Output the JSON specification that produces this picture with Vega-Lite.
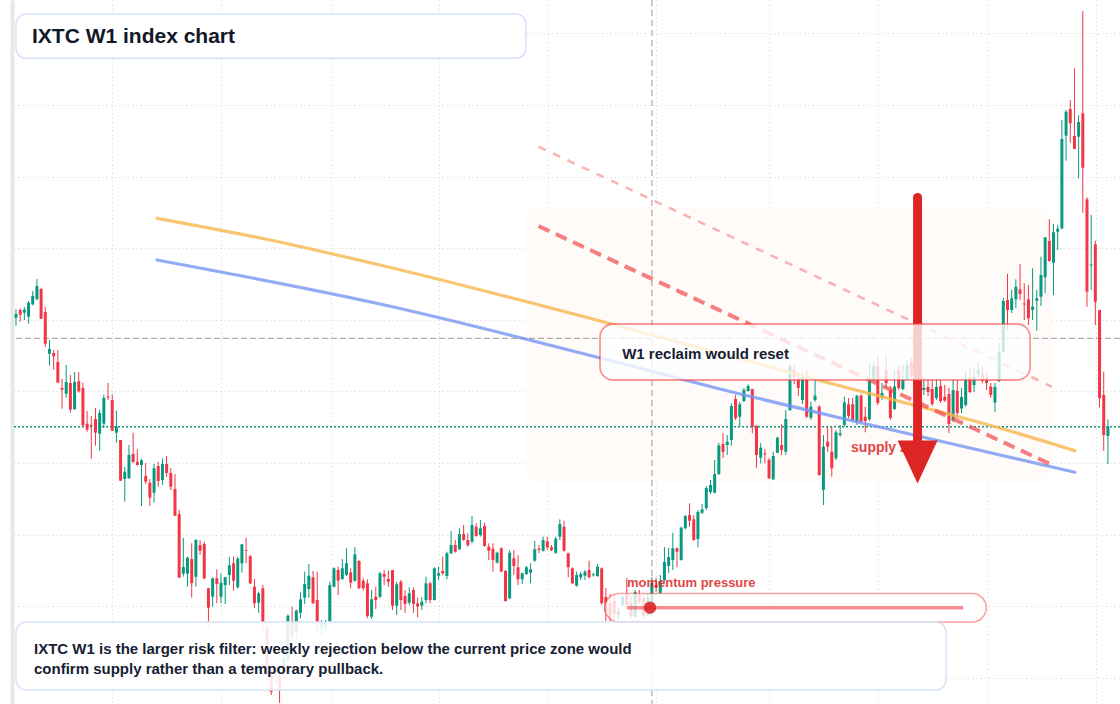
{
  "$schema": "https://vega.github.io/schema/vega-lite/v6.json",
  "width": 1106,
  "height": 704,
  "padding": {"left": 14, "top": 0, "right": 0, "bottom": 0},
  "autosize": {"type": "none"},
  "background": "#ffffff",
  "config": {
    "view": {"stroke": null},
    "font": "Liberation Sans",
    "axis": {"labels": false, "ticks": false, "domain": false, "grid": true, "gridColor": "#cfd2d7", "gridDash": [1, 3.2], "gridWidth": 1}
  },
  "datasets": {
    "weekly": [
      {"w":0,"o":1386.3,"h":1395,"l":1378.3,"c":1390},{"w":1,"o":1394,"h":1396,"l":1382.3,"c":1389.3},{"w":2,"o":1391.3,"h":1397,"l":1384,"c":1394.3},{"w":3,"o":1387.3,"h":1403,"l":1380.3,"c":1401.3},{"w":4,"o":1399.7,"h":1413,"l":1398.7,"c":1408},
      {"w":5,"o":1405,"h":1425,"l":1403.3,"c":1418},{"w":6,"o":1415,"h":1416.3,"l":1385,"c":1385.3},{"w":7,"o":1392,"h":1397,"l":1357,"c":1360.3},{"w":8,"o":1350.3,"h":1364,"l":1338.3,"c":1355},{"w":9,"o":1351,"h":1354,"l":1334.3,"c":1347.7},
      {"w":10,"o":1342,"h":1354,"l":1321.3,"c":1321.3},{"w":11,"o":1316,"h":1325,"l":1295.3,"c":1314.3},{"w":12,"o":1310.3,"h":1339,"l":1306.3,"c":1322},{"w":13,"o":1321,"h":1329,"l":1291.3,"c":1294.3},{"w":14,"o":1295,"h":1332,"l":1294,"c":1322},
      {"w":15,"o":1322.7,"h":1332,"l":1311.3,"c":1312.7},{"w":16,"o":1316,"h":1321.3,"l":1277.3,"c":1278.7},{"w":17,"o":1280.3,"h":1293,"l":1272.3,"c":1274.3},{"w":18,"o":1279,"h":1288,"l":1245.3,"c":1278},{"w":19,"o":1285,"h":1296,"l":1258.3,"c":1271.3},
      {"w":20,"o":1270.3,"h":1294.3,"l":1253.3,"c":1291},{"w":21,"o":1280.3,"h":1309.3,"l":1276.3,"c":1306},{"w":22,"o":1307.3,"h":1321,"l":1304,"c":1306.3},{"w":23,"o":1304,"h":1309.7,"l":1273,"c":1273.3},{"w":24,"o":1271.3,"h":1293.3,"l":1261.3,"c":1277.3},
      {"w":25,"o":1264,"h":1264,"l":1223,"c":1223.3},{"w":26,"o":1225,"h":1237,"l":1202.3,"c":1232.3},{"w":27,"o":1226,"h":1259,"l":1225,"c":1249},{"w":28,"o":1250,"h":1271.3,"l":1241.3,"c":1242},{"w":29,"o":1242.3,"h":1254.7,"l":1238.5,"c":1239},
      {"w":30,"o":1239,"h":1245.3,"l":1198,"c":1243.7},{"w":31,"o":1228,"h":1241,"l":1220,"c":1222.3},{"w":32,"o":1221.3,"h":1225,"l":1198,"c":1206.3},{"w":33,"o":1211.3,"h":1240,"l":1201.3,"c":1235.7},{"w":34,"o":1238,"h":1242,"l":1217.3,"c":1223},
      {"w":35,"o":1224,"h":1245.7,"l":1219,"c":1240},{"w":36,"o":1240,"h":1248,"l":1227.3,"c":1231},{"w":37,"o":1231,"h":1236,"l":1214,"c":1217.3},{"w":38,"o":1215,"h":1230,"l":1188,"c":1188.3},{"w":39,"o":1190,"h":1194,"l":1126.3,"c":1126.3},
      {"w":40,"o":1130.3,"h":1166.3,"l":1127.3,"c":1137},{"w":41,"o":1130.3,"h":1147.3,"l":1117.3,"c":1146.3},{"w":42,"o":1145,"h":1160.7,"l":1106.3,"c":1120.7},{"w":43,"o":1127.3,"h":1165,"l":1117.3,"c":1164},{"w":44,"o":1159,"h":1164,"l":1149,"c":1153.3},
      {"w":45,"o":1160,"h":1162.3,"l":1124.7,"c":1125.7},{"w":46,"o":1115.7,"h":1116.3,"l":1077.3,"c":1096.3},{"w":47,"o":1107.3,"h":1126.7,"l":1097.3,"c":1125.7},{"w":48,"o":1125.7,"h":1134.7,"l":1100.7,"c":1120},{"w":49,"o":1107.3,"h":1130.7,"l":1100.7,"c":1121.3},
      {"w":50,"o":1119,"h":1127.3,"l":1100,"c":1126.7},{"w":51,"o":1129,"h":1147.3,"l":1119,"c":1138.7},{"w":52,"o":1140.7,"h":1147.3,"l":1113.3,"c":1123.3},{"w":53,"o":1116.7,"h":1147.3,"l":1115.7,"c":1145.3},{"w":54,"o":1140.7,"h":1160,"l":1131.3,"c":1159.7},
      {"w":55,"o":1154,"h":1166,"l":1140.7,"c":1153.3},{"w":56,"o":1147.7,"h":1149,"l":1120,"c":1120.7},{"w":57,"o":1117.3,"h":1125,"l":1095.7,"c":1100.7},{"w":58,"o":1101.3,"h":1112.3,"l":1091.3,"c":1110.7},{"w":59,"o":1115.7,"h":1119,"l":1072.3,"c":1082},
      {"w":60,"o":1076,"h":1079,"l":1022,"c":1029},{"w":61,"o":1027.3,"h":1034,"l":1009,"c":1012.3},{"w":62,"o":1024.5,"h":1031,"l":1021,"c":1023.5},{"w":63,"o":1028,"h":1039,"l":1001,"c":1014},{"w":64,"o":1031,"h":1049,"l":1026,"c":1046},
      {"w":65,"o":1044,"h":1089.7,"l":1042,"c":1088.3},{"w":66,"o":1082.3,"h":1097.3,"l":1064,"c":1067.3},{"w":67,"o":1072.3,"h":1094.7,"l":1064,"c":1093.3},{"w":68,"o":1091.3,"h":1112.3,"l":1085.7,"c":1104.7},{"w":69,"o":1106.3,"h":1132.3,"l":1100,"c":1120},
      {"w":70,"o":1115,"h":1140,"l":1106.3,"c":1128.3},{"w":71,"o":1126.7,"h":1133,"l":1100,"c":1100.7},{"w":72,"o":1104,"h":1132.3,"l":1070.7,"c":1080.7},{"w":73,"o":1076,"h":1084,"l":1069,"c":1082},{"w":74,"o":1077,"h":1084,"l":1072,"c":1081},
      {"w":75,"o":1082.3,"h":1122.3,"l":1078,"c":1118.7},{"w":76,"o":1117.3,"h":1136.7,"l":1116.7,"c":1135.7},{"w":77,"o":1134,"h":1137.3,"l":1109,"c":1123.3},{"w":78,"o":1125,"h":1145,"l":1124,"c":1135.7},{"w":79,"o":1129,"h":1155.7,"l":1128,"c":1140.7},
      {"w":80,"o":1131.7,"h":1135.7,"l":1115.7,"c":1121.3},{"w":81,"o":1123.3,"h":1156.7,"l":1122.3,"c":1149.7},{"w":82,"o":1143,"h":1144,"l":1115,"c":1115.7},{"w":83,"o":1123.3,"h":1125.7,"l":1113.3,"c":1115.7},{"w":84,"o":1120.7,"h":1124.7,"l":1085.7,"c":1088},
      {"w":85,"o":1087.3,"h":1114,"l":1085,"c":1104.7},{"w":86,"o":1107.3,"h":1117.3,"l":1095,"c":1104},{"w":87,"o":1107.3,"h":1132.3,"l":1105.7,"c":1130.7},{"w":88,"o":1130,"h":1134,"l":1119,"c":1127.3},{"w":89,"o":1125,"h":1133.3,"l":1117.3,"c":1122.3},
      {"w":90,"o":1134,"h":1134,"l":1094,"c":1098.3},{"w":91,"o":1098.3,"h":1122.3,"l":1089,"c":1119.7},{"w":92,"o":1122.3,"h":1124,"l":1094,"c":1104},{"w":93,"o":1108,"h":1114,"l":1091,"c":1100},{"w":94,"o":1101.3,"h":1116.7,"l":1099,"c":1110.7},
      {"w":95,"o":1114,"h":1116.7,"l":1091.3,"c":1100},{"w":96,"o":1100.7,"h":1106.3,"l":1086.7,"c":1097.3},{"w":97,"o":1098.3,"h":1107,"l":1094,"c":1102.3},{"w":98,"o":1104,"h":1127.3,"l":1100.7,"c":1120.7},{"w":99,"o":1120.7,"h":1122.3,"l":1100.7,"c":1104},
      {"w":100,"o":1104,"h":1136.7,"l":1103.5,"c":1135.7},{"w":101,"o":1128.3,"h":1137.3,"l":1124,"c":1130.7},{"w":102,"o":1133,"h":1147.3,"l":1129,"c":1130.7},{"w":103,"o":1128,"h":1152.3,"l":1124.7,"c":1150.7},{"w":104,"o":1150.7,"h":1173.3,"l":1150,"c":1159},
      {"w":105,"o":1159,"h":1164,"l":1151.3,"c":1152.3},{"w":106,"o":1154.7,"h":1175.7,"l":1154,"c":1170},{"w":107,"o":1170,"h":1179,"l":1163.3,"c":1164},{"w":108,"o":1164,"h":1170.7,"l":1157.3,"c":1158.7},{"w":109,"o":1162.3,"h":1188,"l":1160.7,"c":1179},
      {"w":110,"o":1177.3,"h":1180.7,"l":1167.3,"c":1168},{"w":111,"o":1169,"h":1184,"l":1167.3,"c":1175.7},{"w":112,"o":1178,"h":1181.3,"l":1157.3,"c":1158},{"w":113,"o":1157.3,"h":1160.7,"l":1144,"c":1153.3},{"w":114,"o":1155.3,"h":1160.7,"l":1132.3,"c":1144},
      {"w":115,"o":1141.3,"h":1152.3,"l":1140.7,"c":1151.3},{"w":116,"o":1155.7,"h":1156.7,"l":1132.3,"c":1132.3},{"w":117,"o":1133,"h":1134,"l":1102.3,"c":1103},{"w":118,"o":1105.7,"h":1154,"l":1104.7,"c":1151.3},{"w":119,"o":1145.7,"h":1154,"l":1129,"c":1138},
      {"w":120,"o":1136.7,"h":1149,"l":1119,"c":1124.7},{"w":121,"o":1124.7,"h":1131.3,"l":1120,"c":1130.7},{"w":122,"o":1130,"h":1138,"l":1129,"c":1136.7},{"w":123,"o":1131.3,"h":1140.7,"l":1120.7,"c":1134.7},{"w":124,"o":1143.3,"h":1163.3,"l":1142.3,"c":1154.7},
      {"w":125,"o":1155.3,"h":1159,"l":1150.7,"c":1154},{"w":126,"o":1153.3,"h":1167.3,"l":1152.3,"c":1164},{"w":127,"o":1162.7,"h":1167.3,"l":1154,"c":1156.7},{"w":128,"o":1156.7,"h":1159,"l":1153,"c":1154},{"w":129,"o":1151.3,"h":1167.3,"l":1150,"c":1165.3},
      {"w":130,"o":1167.3,"h":1184.7,"l":1164,"c":1180},{"w":131,"o":1177.3,"h":1183.3,"l":1152.3,"c":1153.3},{"w":132,"o":1150.7,"h":1151.3,"l":1126.7,"c":1136.7},{"w":133,"o":1135.7,"h":1136.7,"l":1120,"c":1120.7},{"w":134,"o":1118.3,"h":1132.3,"l":1117.3,"c":1129},
      {"w":135,"o":1126.7,"h":1132.3,"l":1124,"c":1130},{"w":136,"o":1128.3,"h":1134,"l":1124,"c":1132.3},{"w":137,"o":1134,"h":1143.3,"l":1125.7,"c":1126.7},{"w":138,"o":1128.7,"h":1131.3,"l":1127.3,"c":1129.7},{"w":139,"o":1128,"h":1140,"l":1127.3,"c":1137.3},
      {"w":140,"o":1135.7,"h":1136.7,"l":1099,"c":1101},{"w":141,"o":1107,"h":1116,"l":1083,"c":1092},{"w":142,"o":1101,"h":1110,"l":1083,"c":1086},{"w":143,"o":1103,"h":1110,"l":1084,"c":1090},{"w":144,"o":1089,"h":1096,"l":1084,"c":1092.5},
      {"w":145,"o":1099,"h":1109,"l":1097,"c":1107},{"w":146,"o":1109,"h":1126,"l":1097,"c":1099},{"w":147,"o":1101,"h":1108,"l":1086,"c":1088},{"w":148,"o":1087.3,"h":1114,"l":1086,"c":1112},{"w":149,"o":1109,"h":1114,"l":1100,"c":1102},
      {"w":150,"o":1106,"h":1109,"l":1086,"c":1088},{"w":151,"o":1089,"h":1111,"l":1088,"c":1107},{"w":152,"o":1101,"h":1127,"l":1099,"c":1121},{"w":153,"o":1119,"h":1126,"l":1112,"c":1116},{"w":154,"o":1111,"h":1129,"l":1109,"c":1123},
      {"w":155,"o":1124,"h":1157,"l":1122,"c":1142},{"w":156,"o":1138,"h":1156,"l":1131,"c":1147},{"w":157,"o":1144,"h":1171.3,"l":1134,"c":1155.7},{"w":158,"o":1155.7,"h":1156.7,"l":1136.7,"c":1152.3},{"w":159,"o":1144,"h":1177.3,"l":1143.3,"c":1176.3},
      {"w":160,"o":1175.7,"h":1189,"l":1174.7,"c":1188},{"w":161,"o":1189,"h":1200.7,"l":1177.3,"c":1183.3},{"w":162,"o":1184.7,"h":1189,"l":1163.3,"c":1164},{"w":163,"o":1165,"h":1194,"l":1156.7,"c":1192},{"w":164,"o":1191.3,"h":1200,"l":1190,"c":1194.7},
      {"w":165,"o":1196,"h":1218,"l":1194,"c":1216},{"w":166,"o":1212,"h":1224,"l":1210,"c":1219},{"w":167,"o":1211.3,"h":1244,"l":1210.7,"c":1230},{"w":168,"o":1230,"h":1261,"l":1229,"c":1258.5},{"w":169,"o":1260,"h":1271,"l":1246,"c":1252},
      {"w":170,"o":1259,"h":1269,"l":1249,"c":1262.3},{"w":171,"o":1264,"h":1300.7,"l":1258.3,"c":1298},{"w":172,"o":1305,"h":1309,"l":1284,"c":1285.7},{"w":173,"o":1287.3,"h":1302.3,"l":1277.3,"c":1299.7},{"w":174,"o":1303,"h":1316,"l":1302,"c":1314},
      {"w":175,"o":1313,"h":1319.7,"l":1312.3,"c":1318},{"w":176,"o":1315,"h":1315,"l":1270.7,"c":1277.3},{"w":177,"o":1278.3,"h":1278.3,"l":1236.3,"c":1249},{"w":178,"o":1246.3,"h":1260.7,"l":1240.7,"c":1256.3},{"w":179,"o":1250.5,"h":1255,"l":1240.7,"c":1249.5},
      {"w":180,"o":1244,"h":1246,"l":1225,"c":1225.7},{"w":181,"o":1224.7,"h":1252.3,"l":1224,"c":1248},{"w":182,"o":1251.3,"h":1267.3,"l":1250.7,"c":1266.3},{"w":183,"o":1259,"h":1279.7,"l":1249,"c":1254},{"w":184,"o":1252.3,"h":1294,"l":1249,"c":1285},
      {"w":185,"o":1294,"h":1340,"l":1293,"c":1337.3},{"w":186,"o":1334,"h":1339,"l":1320,"c":1327},{"w":187,"o":1326,"h":1332,"l":1308,"c":1316},{"w":188,"o":1304,"h":1332,"l":1300,"c":1327},{"w":189,"o":1325.7,"h":1334,"l":1286,"c":1287.3},
      {"w":190,"o":1286.3,"h":1302,"l":1284,"c":1297.3},{"w":191,"o":1304,"h":1326,"l":1302,"c":1308.3},{"w":192,"o":1297.3,"h":1299,"l":1228,"c":1229},{"w":193,"o":1214,"h":1269,"l":1199,"c":1257.3},{"w":194,"o":1262.3,"h":1277.3,"l":1252,"c":1257.3},
      {"w":195,"o":1252.3,"h":1277.3,"l":1227.3,"c":1235.7},{"w":196,"o":1245.7,"h":1274,"l":1244,"c":1271.7},{"w":197,"o":1269,"h":1279,"l":1267.3,"c":1270.7},{"w":198,"o":1279,"h":1307.3,"l":1277.3,"c":1301.7},{"w":199,"o":1299.7,"h":1306,"l":1286,"c":1288.3},
      {"w":200,"o":1299.7,"h":1306,"l":1282,"c":1284},{"w":201,"o":1282.3,"h":1309,"l":1279,"c":1308.3},{"w":202,"o":1308.3,"h":1309.7,"l":1281.7,"c":1282.3},{"w":203,"o":1287.3,"h":1297.3,"l":1271.7,"c":1283},{"w":204,"o":1284.7,"h":1341,"l":1283,"c":1324},
      {"w":205,"o":1324,"h":1342.3,"l":1323,"c":1337.3},{"w":206,"o":1338,"h":1348,"l":1299,"c":1301},{"w":207,"o":1307,"h":1321,"l":1304,"c":1311},{"w":208,"o":1334,"h":1349,"l":1316,"c":1321},{"w":209,"o":1314,"h":1318,"l":1284,"c":1286},
      {"w":210,"o":1295,"h":1334,"l":1294,"c":1317.5},{"w":211,"o":1334,"h":1339,"l":1314,"c":1316},{"w":212,"o":1315,"h":1339,"l":1314,"c":1324},{"w":213,"o":1325,"h":1344,"l":1324,"c":1339},{"w":214,"o":1342,"h":1346,"l":1326,"c":1329},
      {"w":215,"o":1314,"h":1338,"l":1310,"c":1332},{"w":216,"o":1326,"h":1332,"l":1308,"c":1312},{"w":217,"o":1314,"h":1326,"l":1309,"c":1316},{"w":218,"o":1317,"h":1326,"l":1308,"c":1312},{"w":219,"o":1315,"h":1324,"l":1298,"c":1300},
      {"w":220,"o":1306,"h":1326,"l":1304,"c":1317},{"w":221,"o":1318,"h":1324,"l":1301,"c":1303},{"w":222,"o":1307.3,"h":1319,"l":1302,"c":1303.5},{"w":223,"o":1310,"h":1316,"l":1271,"c":1280},{"w":224,"o":1284,"h":1324,"l":1282,"c":1314},
      {"w":225,"o":1313,"h":1324,"l":1286,"c":1291},{"w":226,"o":1295.5,"h":1316,"l":1291,"c":1307},{"w":227,"o":1299,"h":1334,"l":1297,"c":1325},{"w":228,"o":1326,"h":1336,"l":1311,"c":1312},{"w":229,"o":1319,"h":1336,"l":1312,"c":1327},
      {"w":230,"o":1330,"h":1342,"l":1327,"c":1334},{"w":231,"o":1330,"h":1338,"l":1321,"c":1323},{"w":232,"o":1326,"h":1331,"l":1314,"c":1321},{"w":233,"o":1317.5,"h":1321,"l":1306,"c":1309},{"w":234,"o":1301.5,"h":1321,"l":1292.3,"c":1317},
      {"w":235,"o":1323,"h":1361,"l":1322,"c":1352},{"w":236,"o":1352,"h":1406,"l":1351,"c":1403},{"w":237,"o":1404,"h":1430,"l":1374,"c":1394},{"w":238,"o":1394,"h":1414,"l":1391,"c":1405.7},{"w":239,"o":1404.7,"h":1424.7,"l":1395.7,"c":1417.3},
      {"w":240,"o":1414.7,"h":1440,"l":1404,"c":1410},{"w":241,"o":1400.5,"h":1420.7,"l":1384,"c":1399.5},{"w":242,"o":1404.7,"h":1419,"l":1379,"c":1385.7},{"w":243,"o":1394,"h":1435.7,"l":1384,"c":1397.3},{"w":244,"o":1403.3,"h":1414,"l":1373.3,"c":1405.7},
      {"w":245,"o":1407.3,"h":1447.3,"l":1398,"c":1429},{"w":246,"o":1426.7,"h":1466.7,"l":1410.7,"c":1466.7},{"w":247,"o":1463,"h":1484.7,"l":1442.3,"c":1443},{"w":248,"o":1441.3,"h":1480,"l":1409,"c":1471.7},{"w":249,"o":1472.3,"h":1479,"l":1454,"c":1475.3},
      {"w":250,"o":1475.7,"h":1584,"l":1474.7,"c":1565},{"w":251,"o":1568.3,"h":1594,"l":1543.3,"c":1592.3},{"w":252,"o":1595,"h":1604,"l":1561.3,"c":1580.7},{"w":253,"o":1568,"h":1635.7,"l":1555,"c":1555},{"w":254,"o":1567.3,"h":1588.7,"l":1525.7,"c":1582},
      {"w":255,"o":1590.7,"h":1693,"l":1491.3,"c":1536.3},{"w":256,"o":1504.7,"h":1506.7,"l":1397.3,"c":1412.3},{"w":257,"o":1438.5,"h":1489,"l":1414,"c":1439.5},{"w":258,"o":1459.7,"h":1463.3,"l":1379,"c":1402.3},{"w":259,"o":1394,"h":1394,"l":1296.7,"c":1305.7},
      {"w":260,"o":1309,"h":1332.3,"l":1253.3,"c":1269},{"w":261,"o":1268,"h":1284.7,"l":1240,"c":1277.3}
    ],
    "guides": [
      {"guide":"upper","w":33.7,"p":1485.7},{"guide":"upper","w":60.7,"p":1464},{"guide":"upper","w":87,"p":1439},{"guide":"upper","w":149.2,"p":1372.3},{"guide":"upper","w":194.6,"p":1320.7},{"guide":"upper","w":237.6,"p":1273},{"guide":"upper","w":253.1,"p":1253.3},
      {"guide":"lower","w":33.7,"p":1444},{"guide":"lower","w":87,"p":1400},{"guide":"lower","w":149.2,"p":1335.7},{"guide":"lower","w":167.1,"p":1316.3},{"guide":"lower","w":195.8,"p":1287.3},{"guide":"lower","w":253.1,"p":1231.7}
    ]
  },
  "layer": [
    {
      "description": "supply zone shading",
      "data": {"values": [{"zone": "supply", "w0": 121.9, "w1": 247.6, "p0": 1222, "p1": 1497}]},
      "mark": {"type": "rect", "cornerRadius": 14, "fill": "#fefbf9"},
      "encoding": {
        "x": {"field": "w0", "type": "quantitative", "title": null, "scale": {"domain": [-0.478, 263.89], "nice": false, "zero": false, "padding": 0}},
        "x2": {"field": "w1"},
        "y": {"field": "p0", "type": "quantitative", "title": null, "scale": {"domain": [1000, 1704], "nice": false, "zero": false, "padding": 0}},
        "y2": {"field": "p1"}
      }
    },
    {
      "description": "crosshair, vertical",
      "data": {"values": [{"w": 152}]},
      "mark": {"type": "rule", "color": "#9a9a9a", "strokeWidth": 1, "strokeDash": [6, 4]},
      "encoding": {"x": {"field": "w", "type": "quantitative", "title": null, "scale": {"domain": [-0.478, 263.89], "nice": false, "zero": false, "padding": 0}}}
    },
    {
      "description": "crosshair, horizontal",
      "data": {"values": [{"p": 1365.7}]},
      "mark": {"type": "rule", "color": "#9a9a9a", "strokeWidth": 1, "strokeDash": [6, 3]},
      "encoding": {"y": {"field": "p", "type": "quantitative", "title": null, "scale": {"domain": [1000, 1704], "nice": false, "zero": false, "padding": 0}}}
    },
    {
      "description": "last close price line",
      "data": {"name": "weekly"},
      "transform": [
        {"joinaggregate": [{"op": "max", "field": "w", "as": "last"}]},
        {"filter": "datum.w == datum.last"}
      ],
      "mark": {"type": "rule", "color": "#089981", "strokeWidth": 1.5, "strokeDash": [2, 2]},
      "encoding": {"y": {"field": "c", "type": "quantitative", "title": null, "scale": {"domain": [1000, 1704], "nice": false, "zero": false, "padding": 0}}}
    },
    {
      "description": "candle wicks; carries the grid",
      "data": {"name": "weekly"},
      "mark": {"type": "rule", "strokeWidth": 1},
      "encoding": {
        "x": {"field": "w", "type": "quantitative", "title": null, "scale": {"domain": [-0.478, 263.89], "nice": false, "zero": false, "padding": 0},
              "axis": {"values": [22.95, 49.07, 75.2, 101.2, 127.1, 153.0, 180.05, 206.0, 232.1, 258.2]}},
        "y": {"field": "l", "type": "quantitative", "title": null, "scale": {"domain": [1000, 1704], "nice": false, "zero": false, "padding": 0},
              "axis": {"values": [1026.3, 1062.1, 1097.9, 1133.7, 1169.5, 1205.3, 1241.1, 1276.9, 1312.7, 1348.5, 1384.3, 1420.1, 1455.9, 1491.7, 1527.5, 1563.3, 1599.1, 1634.9, 1670.7],
                       "domain": true, "domainColor": "#e8e8e8", "domainWidth": 4, "offset": 2}},
        "y2": {"field": "h"},
        "color": {"condition": {"test": "datum.c >= datum.o", "value": "#089981"}, "value": "#f23645"}
      }
    },
    {
      "description": "candle bodies",
      "data": {"name": "weekly"},
      "mark": {"type": "bar", "width": 3},
      "encoding": {
        "x": {"field": "w", "type": "quantitative", "title": null, "scale": {"domain": [-0.478, 263.89], "nice": false, "zero": false, "padding": 0}},
        "y": {"field": "o", "type": "quantitative", "title": null, "scale": {"domain": [1000, 1704], "nice": false, "zero": false, "padding": 0}},
        "y2": {"field": "c"},
        "color": {"condition": {"test": "datum.c >= datum.o", "value": "#089981"}, "value": "#f23645"}
      }
    },
    {
      "description": "trend guides",
      "data": {"name": "guides"},
      "mark": {"type": "line", "interpolate": "monotone", "strokeWidth": 3.2, "opacity": 0.8, "strokeCap": "round"},
      "encoding": {
        "x": {"field": "w", "type": "quantitative", "title": null, "scale": {"domain": [-0.478, 263.89], "nice": false, "zero": false, "padding": 0}},
        "y": {"field": "p", "type": "quantitative", "title": null, "scale": {"domain": [1000, 1704], "nice": false, "zero": false, "padding": 0}},
        "color": {"field": "guide", "type": "nominal", "scale": {"domain": ["upper", "lower"], "range": ["#f8b64c", "#7596f1"]}, "legend": null}
      }
    },
    {
      "description": "outer supply boundary",
      "data": {"values": [{"w": 124.9, "p": 1557.3}, {"w": 247.57, "p": 1317.5}]},
      "mark": {"type": "line", "color": "#ef4444", "opacity": 0.4, "strokeWidth": 2.5, "strokeDash": [8, 8]},
      "encoding": {
        "x": {"field": "w", "type": "quantitative", "title": null, "scale": {"domain": [-0.478, 263.89], "nice": false, "zero": false, "padding": 0}},
        "y": {"field": "p", "type": "quantitative", "title": null, "scale": {"domain": [1000, 1704], "nice": false, "zero": false, "padding": 0}}
      }
    },
    {
      "description": "inner supply boundary",
      "data": {"values": [{"w": 124.9, "p": 1478}, {"w": 247.95, "p": 1238.5}]},
      "mark": {"type": "line", "color": "#ef4444", "opacity": 0.68, "strokeWidth": 4, "strokeDash": [12, 7]},
      "encoding": {
        "x": {"field": "w", "type": "quantitative", "title": null, "scale": {"domain": [-0.478, 263.89], "nice": false, "zero": false, "padding": 0}},
        "y": {"field": "p", "type": "quantitative", "title": null, "scale": {"domain": [1000, 1704], "nice": false, "zero": false, "padding": 0}}
      }
    },
    {
      "description": "supply zone label",
      "data": {"values": [{"label": "supply zone", "w": 199.6, "p": 1252}]},
      "mark": {"type": "text", "align": "left", "baseline": "alphabetic", "fontSize": 14, "fontWeight": "bold", "color": "#dc2626", "opacity": 0.85},
      "encoding": {
        "x": {"field": "w", "type": "quantitative", "title": null, "scale": {"domain": [-0.478, 263.89], "nice": false, "zero": false, "padding": 0}},
        "y": {"field": "p", "type": "quantitative", "title": null, "scale": {"domain": [1000, 1704], "nice": false, "zero": false, "padding": 0}},
        "text": {"field": "label"}
      }
    },
    {
      "description": "rejection arrow shaft",
      "data": {"values": [{"w": 215.5, "top": 1506.5, "base": 1262}]},
      "mark": {"type": "rule", "color": "#dc2626", "strokeWidth": 9, "strokeCap": "round"},
      "encoding": {
        "x": {"field": "w", "type": "quantitative", "title": null, "scale": {"domain": [-0.478, 263.89], "nice": false, "zero": false, "padding": 0}},
        "y": {"field": "top", "type": "quantitative", "title": null, "scale": {"domain": [1000, 1704], "nice": false, "zero": false, "padding": 0}},
        "y2": {"field": "base"}
      }
    },
    {
      "description": "rejection arrow head",
      "data": {"values": [{"w": 215.5, "p": 1242}]},
      "mark": {"type": "point", "shape": "M-0.93,-1L0.93,-1L0,1Z", "size": 1849, "filled": true, "color": "#dc2626", "opacity": 1, "strokeWidth": 0},
      "encoding": {
        "x": {"field": "w", "type": "quantitative", "title": null, "scale": {"domain": [-0.478, 263.89], "nice": false, "zero": false, "padding": 0}},
        "y": {"field": "p", "type": "quantitative", "title": null, "scale": {"domain": [1000, 1704], "nice": false, "zero": false, "padding": 0}}
      }
    },
    {
      "description": "reclaim callout box",
      "data": {"values": [{"w0": 139.6, "w1": 242.4, "p0": 1324, "p1": 1380}]},
      "mark": {"type": "rect", "cornerRadius": 13, "fill": "#ffffff", "fillOpacity": 0.78, "stroke": "#ef4444", "strokeOpacity": 0.55, "strokeWidth": 1.8},
      "encoding": {
        "x": {"field": "w0", "type": "quantitative", "title": null, "scale": {"domain": [-0.478, 263.89], "nice": false, "zero": false, "padding": 0}},
        "x2": {"field": "w1"},
        "y": {"field": "p0", "type": "quantitative", "title": null, "scale": {"domain": [1000, 1704], "nice": false, "zero": false, "padding": 0}},
        "y2": {"field": "p1"}
      }
    },
    {
      "description": "reclaim callout text",
      "data": {"values": [{"label": "W1 reclaim would reset", "w": 144.9, "p": 1345.5}]},
      "mark": {"type": "text", "align": "left", "baseline": "alphabetic", "fontSize": 15, "fontWeight": "bold", "color": "#162033"},
      "encoding": {
        "x": {"field": "w", "type": "quantitative", "title": null, "scale": {"domain": [-0.478, 263.89], "nice": false, "zero": false, "padding": 0}},
        "y": {"field": "p", "type": "quantitative", "title": null, "scale": {"domain": [1000, 1704], "nice": false, "zero": false, "padding": 0}},
        "text": {"field": "label"}
      }
    },
    {
      "description": "momentum gauge frame",
      "data": {"values": [{"w0": 140.8, "w1": 231.9, "p0": 1082, "p1": 1110.5}]},
      "mark": {"type": "rect", "cornerRadius": 14, "fill": "#ffffff", "fillOpacity": 0.8, "stroke": "#ef4444", "strokeOpacity": 0.5, "strokeWidth": 1.5},
      "encoding": {
        "x": {"field": "w0", "type": "quantitative", "title": null, "scale": {"domain": [-0.478, 263.89], "nice": false, "zero": false, "padding": 0}},
        "x2": {"field": "w1"},
        "y": {"field": "p0", "type": "quantitative", "title": null, "scale": {"domain": [1000, 1704], "nice": false, "zero": false, "padding": 0}},
        "y2": {"field": "p1"}
      }
    },
    {
      "description": "momentum gauge track",
      "data": {"values": [{"w0": 146.05, "w1": 226.4, "p": 1096.3}]},
      "mark": {"type": "rule", "color": "#ef4444", "opacity": 0.6, "strokeWidth": 3.5},
      "encoding": {
        "x": {"field": "w0", "type": "quantitative", "title": null, "scale": {"domain": [-0.478, 263.89], "nice": false, "zero": false, "padding": 0}},
        "x2": {"field": "w1"},
        "y": {"field": "p", "type": "quantitative", "title": null, "scale": {"domain": [1000, 1704], "nice": false, "zero": false, "padding": 0}}
      }
    },
    {
      "description": "momentum gauge reading",
      "data": {"values": [{"w": 151.55, "p": 1096.3}]},
      "mark": {"type": "circle", "size": 154, "color": "#dc2626", "opacity": 0.9},
      "encoding": {
        "x": {"field": "w", "type": "quantitative", "title": null, "scale": {"domain": [-0.478, 263.89], "nice": false, "zero": false, "padding": 0}},
        "y": {"field": "p", "type": "quantitative", "title": null, "scale": {"domain": [1000, 1704], "nice": false, "zero": false, "padding": 0}}
      }
    },
    {
      "description": "momentum gauge label",
      "data": {"values": [{"label": "momentum pressure", "w": 146.05, "p": 1117.5}]},
      "mark": {"type": "text", "align": "left", "baseline": "alphabetic", "fontSize": 13, "fontWeight": "bold", "color": "#dc2626", "opacity": 0.85},
      "encoding": {
        "x": {"field": "w", "type": "quantitative", "title": null, "scale": {"domain": [-0.478, 263.89], "nice": false, "zero": false, "padding": 0}},
        "y": {"field": "p", "type": "quantitative", "title": null, "scale": {"domain": [1000, 1704], "nice": false, "zero": false, "padding": 0}},
        "text": {"field": "label"}
      }
    },
    {
      "description": "note panel",
      "data": {"values": [{"w0": 0, "w1": 222.3, "p0": 1014, "p1": 1082}]},
      "mark": {"type": "rect", "cornerRadius": 10, "fill": "#ffffff", "fillOpacity": 0.88, "stroke": "#d6e3f7", "strokeWidth": 1.5},
      "encoding": {
        "x": {"field": "w0", "type": "quantitative", "title": null, "scale": {"domain": [-0.478, 263.89], "nice": false, "zero": false, "padding": 0}},
        "x2": {"field": "w1"},
        "y": {"field": "p0", "type": "quantitative", "title": null, "scale": {"domain": [1000, 1704], "nice": false, "zero": false, "padding": 0}},
        "y2": {"field": "p1"}
      }
    },
    {
      "description": "note text",
      "data": {"values": [
        {"label": "IXTC W1 is the larger risk filter: weekly rejection below the current price zone would", "w": 4.3, "p": 1050.5},
        {"label": "confirm supply rather than a temporary pullback.", "w": 4.3, "p": 1030.5}
      ]},
      "mark": {"type": "text", "align": "left", "baseline": "alphabetic", "fontSize": 15, "fontWeight": "bold", "color": "#162033"},
      "encoding": {
        "x": {"field": "w", "type": "quantitative", "title": null, "scale": {"domain": [-0.478, 263.89], "nice": false, "zero": false, "padding": 0}},
        "y": {"field": "p", "type": "quantitative", "title": null, "scale": {"domain": [1000, 1704], "nice": false, "zero": false, "padding": 0}},
        "text": {"field": "label"}
      }
    },
    {
      "description": "title panel",
      "data": {"values": [{"w0": 0, "w1": 121.9, "p0": 1645.7, "p1": 1690}]},
      "mark": {"type": "rect", "cornerRadius": 10, "fill": "#ffffff", "stroke": "#d6e3f7", "strokeWidth": 1.5},
      "encoding": {
        "x": {"field": "w0", "type": "quantitative", "title": null, "scale": {"domain": [-0.478, 263.89], "nice": false, "zero": false, "padding": 0}},
        "x2": {"field": "w1"},
        "y": {"field": "p0", "type": "quantitative", "title": null, "scale": {"domain": [1000, 1704], "nice": false, "zero": false, "padding": 0}},
        "y2": {"field": "p1"}
      }
    },
    {
      "description": "title text",
      "data": {"values": [{"label": "IXTC W1 index chart", "w": 3.82, "p": 1660.7}]},
      "mark": {"type": "text", "align": "left", "baseline": "alphabetic", "fontSize": 21, "fontWeight": "bold", "color": "#111827"},
      "encoding": {
        "x": {"field": "w", "type": "quantitative", "title": null, "scale": {"domain": [-0.478, 263.89], "nice": false, "zero": false, "padding": 0}},
        "y": {"field": "p", "type": "quantitative", "title": null, "scale": {"domain": [1000, 1704], "nice": false, "zero": false, "padding": 0}},
        "text": {"field": "label"}
      }
    }
  ]
}
